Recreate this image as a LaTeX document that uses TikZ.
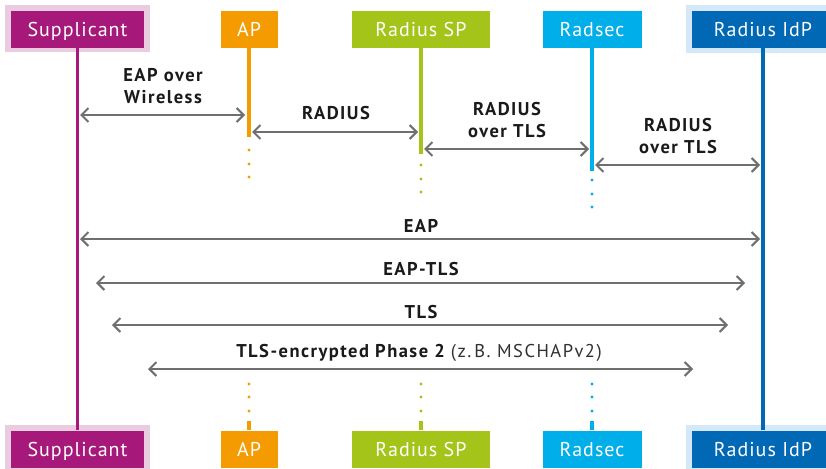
\documentclass[tikz,border=0pt]{standalone}
\usepackage{fontspec}
\setmainfont{PT Sans}
\usetikzlibrary{arrows.meta}

\definecolor{suppc}{HTML}{A6197A}
\definecolor{supplight}{HTML}{E9CCE0}
\definecolor{apc}{HTML}{F39B00}
\definecolor{spc}{HTML}{A5C41A}
\definecolor{radsecc}{HTML}{00AEEA}
\definecolor{idpc}{HTML}{0068B4}
\definecolor{idplight}{HTML}{D5E8F8}
\definecolor{msgc}{HTML}{6F6F6F}
\definecolor{labelc}{HTML}{1A1A1A}

\tikzset{
  actor/.style={inner sep=0pt, text=white, minimum height=37pt,
    font=\fontsize{20}{24}\selectfont\addfontfeature{LetterSpace=5},
    text height=14pt, text depth=0pt},
  life/.style={line width=3.5pt},
  msg/.style={draw=msgc, line width=2pt,
    {Straight Barb[length=7pt,width=14pt]}-{Straight Barb[length=7pt,width=14pt]}},
  msglabel/.style={inner sep=0pt, text=labelc, align=center, anchor=base,
    font=\fontsize{18.5}{22}\selectfont\bfseries\addfontfeature{LetterSpace=8}},
}

\begin{document}
\begin{tikzpicture}[x=1pt,y=-1pt]
\useasboundingbox (0,0) rectangle (826,468);
\clip (0,0) rectangle (826,468);

% light frames behind the two end points
\fill[supplight] (5,5) rectangle (150,52);
\fill[idplight] (686,5) rectangle (840,53);
\fill[supplight] (5,425) rectangle (150,470);
\fill[idplight] (686,425) rectangle (840,470);

% top actor boxes
\node[actor, fill=suppc, minimum width=133pt] (suppT) at (77.5,29.5) {Supplicant};
\node[actor, fill=apc, minimum width=57pt] (apT) at (249,29.5) {AP};
\node[actor, fill=spc, minimum width=138pt] (spT) at (421,29.5) {Radius SP};
\node[actor, fill=radsecc, minimum width=99pt] (radsecT) at (592,29.5) {Radsec};
\node[actor, fill=idpc, minimum width=142pt] (idpT) at (763,29.5) {Radius IdP};

% bottom actor boxes
\node[actor, fill=suppc, minimum width=133pt] (suppB) at (77.5,449) {Supplicant};
\node[actor, fill=apc, minimum width=57pt] (apB) at (249,449) {AP};
\node[actor, fill=spc, minimum width=138pt] (spB) at (421,449) {Radius SP};
\node[actor, fill=radsecc, minimum width=99pt] (radsecB) at (592,449) {Radsec};
\node[actor, fill=idpc, minimum width=142pt] (idpB) at (763,449) {Radius IdP};

% end points of the interrupted lifelines
\coordinate (apEnd) at (249,137);
\coordinate (spEnd) at (421,154);
\coordinate (radsecEnd) at (592,171);
\coordinate (apRe) at (249,421);
\coordinate (spRe) at (421,421);
\coordinate (radsecRe) at (592,421);

% lifelines
\draw[life, suppc] (suppT.south) -- (suppB.north);
\draw[life, idpc] (idpT.south) -- (idpB.north);
\draw[life, apc] (apT.south) -- (apEnd);
\draw[life, spc] (spT.south) -- (spEnd);
\draw[life, radsecc] (radsecT.south) -- (radsecEnd);
\draw[life, apc] (apRe) -- (apB.north);
\draw[life, spc] (spRe) -- (spB.north);
\draw[life, radsecc] (radsecRe) -- (radsecB.north);

% dotted continuations
\foreach \y in {150,164,177} \fill[apc] (249,\y) circle (1.6pt);
\foreach \y in {165,179,192} \fill[spc] (421,\y) circle (1.6pt);
\foreach \y in {180,194,207} \fill[radsecc] (592,\y) circle (1.6pt);
\foreach \y in {384,397,411} {
  \fill[apc] (249,\y) circle (1.6pt);
  \fill[spc] (421,\y) circle (1.6pt);
  \fill[radsecc] (592,\y) circle (1.6pt);
}

% message end points
\coordinate (m1a) at (80,115);  \coordinate (m1b) at (245,115);
\coordinate (m2a) at (252,132); \coordinate (m2b) at (418,132);
\coordinate (m3a) at (424,149); \coordinate (m3b) at (589,149);
\coordinate (m4a) at (595,165); \coordinate (m4b) at (760,165);
\coordinate (m5a) at (80,239);  \coordinate (m5b) at (760,239);
\coordinate (m6a) at (96,283);  \coordinate (m6b) at (745,283);
\coordinate (m7a) at (112,325); \coordinate (m7b) at (728,325);
\coordinate (m8a) at (148,369); \coordinate (m8b) at (693,369);

% messages
\draw[msg] (m1a) -- (m1b);
\draw[msg] (m2a) -- (m2b);
\draw[msg] (m3a) -- (m3b);
\draw[msg] (m4a) -- (m4b);
\draw[msg] (m5a) -- (m5b);
\draw[msg] (m6a) -- (m6b);
\draw[msg] (m7a) -- (m7b);
\draw[msg] (m8a) -- (m8b);

% message labels (two-line labels are anchored at the last baseline)
\node[msglabel] (l1) at (163,103) {EAP over\\Wireless};
\node[msglabel] (l2) at (336,120) {RADIUS};
\node[msglabel] (l3) at (507,137) {RADIUS\\over TLS};
\node[msglabel] (l4) at (678,153) {RADIUS\\over TLS};
\node[msglabel] (l5) at (421,232) {EAP};
\node[msglabel] (l6) at (421,275) {EAP-TLS};
\node[msglabel] (l7) at (421,318) {TLS};
\node[msglabel] (l8) at (419,357) {TLS-encrypted Phase~2 {\mdseries\color{labelc!90}(z.\,B. MSCHAPv2)}};
\end{tikzpicture}
\end{document}
